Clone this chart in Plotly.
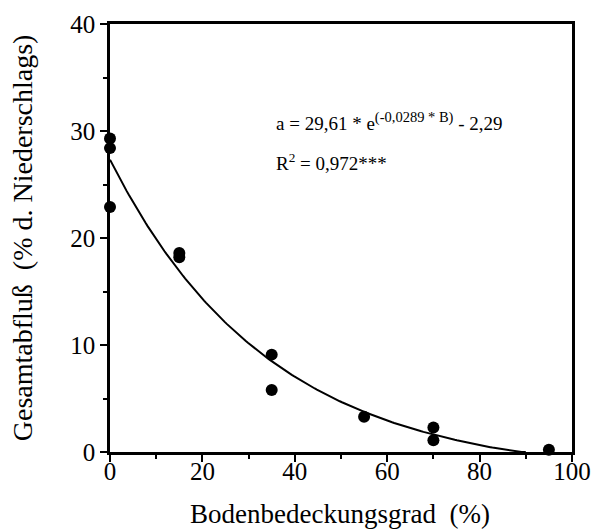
import numpy as np
import plotly.graph_objects as go

# Observed data
cover = [0, 0, 0, 15, 15, 35, 35, 55, 70, 70, 95]
runoff = [29.3, 28.4, 22.9, 18.6, 18.2, 9.1, 5.8, 3.3, 2.3, 1.1, 0.2]

# Fitted model parameters (from equation shown in chart)
coef_a = 29.61
coef_k = -0.0289
coef_c = -2.29
fit_end = 90

xfit = np.linspace(0, fit_end, 200)
yfit = coef_a * np.exp(coef_k * xfit) + coef_c
yfit = np.clip(yfit, 0, None)

x_ticks = [0, 20, 40, 60, 80, 100]
y_ticks = [0, 10, 20, 30, 40]
x_title = "Bodenbedeckungsgrad  (%)"
y_title = "Gesamtabfluß  (% d. Niederschlags)"

font = "Liberation Serif, Times New Roman, serif"

fig = go.Figure()
fig.add_trace(go.Scatter(x=xfit, y=yfit, mode="lines",
                         line=dict(color="black", width=2), cliponaxis=False,
                         showlegend=False, hoverinfo="skip"))
fig.add_trace(go.Scatter(x=cover, y=runoff, mode="markers",
                         marker=dict(color="black", size=12), cliponaxis=False,
                         showlegend=False))

axis_common = dict(showline=True, linecolor="black", linewidth=2.5, mirror=True,
                   ticks="outside", ticklen=7, tickwidth=2, tickcolor="black",
                   showgrid=False, zeroline=False, automargin=False,
                   tickfont=dict(family=font, size=25, color="black"))

fig.update_xaxes(range=[0, 100], tickvals=x_ticks, ticklabelstandoff=-12, **axis_common,
                 minor=dict(dtick=10, ticks="outside", ticklen=4, tickwidth=1.5, tickcolor="black"))
fig.update_yaxes(range=[0, 40], tickvals=y_ticks, **axis_common,
                 minor=dict(dtick=5, ticks="outside", ticklen=4, tickwidth=1.5, tickcolor="black"))

fig.add_annotation(xref="paper", yref="paper", x=0.498, y=-0.144, xanchor="center", yanchor="middle",
                   showarrow=False, text=x_title,
                   font=dict(family=font, size=27, color="black"))
fig.add_annotation(xref="paper", yref="paper", x=-0.19, y=0.5, xanchor="center", yanchor="middle",
                   showarrow=False, text=y_title, textangle=-90,
                   font=dict(family=font, size=28, color="black"))

fig.add_annotation(xref="x", yref="y", x=35.6, y=30.9, xanchor="left", yanchor="middle",
                   showarrow=False,
                   text="a = 29,61 * e<sup><span style='font-size:14.5px'>(-0,0289 * B)</span></sup> - 2,29",
                   font=dict(family=font, size=19, color="black"))
fig.add_annotation(xref="x", yref="y", x=35.6, y=27.1, xanchor="left", yanchor="middle",
                   showarrow=False,
                   text="R<sup>2</sup> = 0,972***",
                   font=dict(family=font, size=19, color="black"))

fig.update_layout(width=597, height=531,
                  margin=dict(l=110, r=25, t=24, b=79),
                  plot_bgcolor="white", paper_bgcolor="white")

fig.write_html("out.html")
